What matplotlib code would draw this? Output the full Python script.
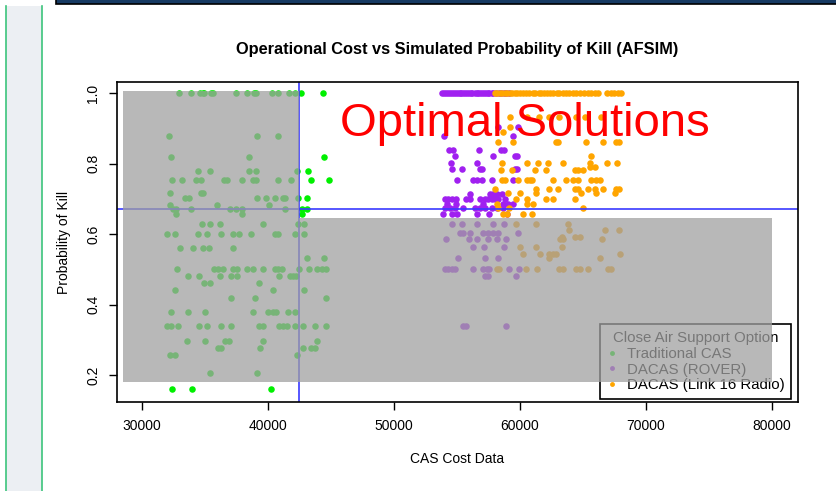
import matplotlib.pyplot as plt
from matplotlib.patches import Rectangle
from matplotlib.lines import Line2D

plt.rcParams['font.family'] = ['Liberation Sans', 'DejaVu Sans']

# Traditional CAS: one list of costs for each probability level
trad_levels = [1.0, 0.878, 0.820, 0.779, 0.754, 0.717, 0.704, 0.684, 0.672, 0.656,
               0.630, 0.601, 0.561, 0.532, 0.502, 0.482, 0.461, 0.440, 0.420, 0.380,
               0.338, 0.296, 0.277, 0.256, 0.206, 0.161]
trad_costs = [
    [32960, 33865, 34603, 34817, 34944, 35452, 35659, 37460, 38357, 38889, 39048, 40317, 40794, 41690, 42167, 42595, 44341],
    [32143, 39127, 40794],
    [32278, 38468, 44444],
    [34444, 35373, 38468, 39048, 42278, 43198],
    [32357, 33175, 34310, 34659, 36508, 36722, 37913, 38786, 39048, 40770, 41802, 43437, 44841],
    [32246, 34659, 34865],
    [33389, 33730, 39151, 39841, 40556, 41214, 41373, 42357, 43071],
    [32246, 35929, 40079],
    [32484, 32698, 33865, 36984, 37460, 37913, 41349, 42675, 43071],
    [32722, 37913, 42675],
    [34786, 35373, 36167, 39627, 42405, 42857],
    [32008, 32595, 34444, 35135, 36270, 37198, 37675, 38675, 40579, 40794, 42119, 42857],
    [33016, 34071, 34865, 35341, 37198],
    [43071, 44444],
    [32754, 35714, 36056, 36452, 37246, 37563, 38357, 38786, 39627, 40556, 40817, 41087, 42437, 43230, 43865, 44262, 44579],
    [33651, 34548, 36190, 37063, 37563, 40897, 41746, 42008, 42222],
    [34921, 35397, 39262],
    [32595, 40421, 42857],
    [37087, 38944, 44579],
    [32278, 33651, 35024, 38833, 39976, 40421, 40635, 41587, 42167],
    [32008, 32278, 32857, 34548, 35135, 36270, 37087, 39262, 39627, 40849, 41167, 41484, 42167, 42754, 43706, 44579],
    [33548, 35024, 36563, 36929, 39627, 43865],
    [36056, 36246, 39365, 42754, 43437, 43754],
    [32222, 32595, 42278],
    [35397, 39151],
    [32357, 33992, 40214],
]

# DACAS (ROVER)
rover_levels = [1.0, 0.904, 0.879, 0.838, 0.822, 0.803, 0.784, 0.753, 0.715, 0.701,
                0.687, 0.673, 0.656, 0.630, 0.602, 0.585, 0.564, 0.532, 0.502, 0.482, 0.338]
rover_costs = [
    [53800, 53950, 54120, 54280, 54430, 54610, 54740, 54900, 55060, 55210, 55330, 55490, 55660,
     55790, 55960, 56110, 56240, 56420, 56560, 56690, 56860, 57010, 57140, 57310, 57460, 57590,
     57760, 57900, 58090, 58310, 58480, 58720, 58890, 59180],
    [58254, 59841],
    [53968, 59468],
    [54365, 54706, 56770, 58492, 58730],
    [54841, 57881, 59603, 59786],
    [54500, 56563],
    [54579, 55373, 56825, 56960, 59603, 59786],
    [55024, 56294, 56563, 56960, 57754, 59468],
    [56032, 57619, 57881, 58151, 58548],
    [54048, 54310, 54579, 54921, 55714, 56032, 56825, 57222, 57484, 57754, 58016, 58300, 58810],
    [54180, 54921, 57087, 58675, 59071, 59468],
    [54048, 54450, 54841, 55500, 56430, 56825, 57222, 57754, 58151, 58675],
    [53913, 54579, 54976, 56563, 57563, 58944],
    [54579, 55373, 56563, 57881, 58730],
    [55238, 55500, 56032, 57087, 57484, 57881, 58278, 59865],
    [54127, 55976, 56563, 57484, 58151, 58889],
    [56294, 57143, 58730],
    [55079, 57246, 58278],
    [54048, 54309, 54579, 54841, 56294, 57087, 57357, 57563, 59103, 59897],
    [57222, 57484, 59683],
    [55500, 55714, 58889],
]

# DACAS (Link 16 Radio)
link_levels = [1.0, 0.933, 0.904, 0.890, 0.862, 0.822, 0.803, 0.791, 0.782, 0.753,
               0.729, 0.716, 0.701, 0.687, 0.673, 0.656, 0.630, 0.613, 0.593, 0.585,
               0.564, 0.543, 0.532, 0.502]
link_costs = [
    [58010, 58190, 58420, 58600, 58790, 59010, 59220, 59380, 59610, 59790, 60020, 60240, 60510,
     60730, 61020, 61240, 61490, 61710, 61920, 62140, 62410, 62630, 62920, 63140, 63410, 63660,
     63880, 64210, 64490, 64820, 65090, 65420, 65690, 65980, 66190, 66900, 67210, 67480, 67790, 68060],
    [59206, 60532, 61500, 62300, 63100, 64500, 65159, 66484],
    [59206],
    [58627],
    [58254, 59444, 62913, 63016, 65294, 66611, 67675, 67881],
    [65690],
    [58548, 60532, 61452, 62246, 63436, 65611, 66929, 67722],
    [65556, 65952],
    [58468, 59341, 61190, 62119, 64365, 64627, 65024],
    [58548, 58810, 59865, 60532, 60794, 61008, 62643, 63706, 64231, 64627, 65690, 66087, 66349],
    [58016, 61325, 62325, 63040, 64365, 64627, 65421, 65952, 66611, 67675, 67881],
    [59071, 60000, 61325, 64897, 66087, 67540],
    [59683, 60532, 62119, 62643, 64365],
    [58151, 60532, 61056],
    [58278, 59151, 65024],
    [58675, 58944, 60262, 60929],
    [59683, 61270, 63833],
    [63913, 66802, 67857],
    [63389, 64365, 64762],
    [63175, 63436, 66563],
    [60000, 61270, 63389],
    [60262, 61643, 62325, 62643, 62913, 67937],
    [62325, 66349],
    [58198, 58357, 60476, 61373, 63119, 63436, 64500, 64762, 65452, 67008, 67278],
]

series_names = ['Traditional CAS', 'DACAS (ROVER)', 'DACAS (Link 16 Radio)']
series_colors = ['#00f000', '#a020f0', '#ffa500']

cost_cut = 42460
pk_cut = 0.670

fig = plt.figure(figsize=(8.36, 4.91), dpi=100)

# slide decorations around the chart
fig.patches.append(Rectangle((6 / 836, 0), 36 / 836, 1 - 6 / 491, transform=fig.transFigure,
                             facecolor='#eceff3', edgecolor='none', zorder=0))
for xp in (6, 42):
    fig.lines.append(Line2D([xp / 836, xp / 836], [0, 1 - 6 / 491], transform=fig.transFigure,
                            color='#3cc47c', lw=1.2))
fig.patches.append(Rectangle((56 / 836, 1 - 4 / 491), 1, 6 / 491, transform=fig.transFigure,
                             facecolor='#173a63', edgecolor='black', lw=1.2))

ax = fig.add_axes([117 / 836, 1 - 402 / 491, 681 / 836, 320 / 491])

groups = [(trad_levels, trad_costs), (rover_levels, rover_costs), (link_levels, link_costs)]
for (levels, costs), name, col in zip(groups, series_names, series_colors):
    xs, ys = [], []
    for lv, row in zip(levels, costs):
        xs += row
        ys += [lv] * len(row)
    ax.plot(xs, ys, 'o', color=col, ms=4.7, mew=0, zorder=2)

ax.axvline(cost_cut, color='#3a3aff', lw=1.2, zorder=2.2)
ax.axhline(pk_cut, color='#3a3aff', lw=1.2, zorder=2.2)

handles = [Line2D([], [], ls='none', marker='o', ms=3.5, mew=0, color=c) for c in series_colors]
leg = ax.legend(handles, series_names, title='Close Air Support Option', loc='lower right',
                bbox_to_anchor=(0.990, 0.009), borderaxespad=0, fontsize=10.8, title_fontsize=10.8,
                fancybox=False, edgecolor='black', framealpha=1, handlelength=0.6,
                handletextpad=0.7, labelspacing=0.12, borderpad=0.45)
leg.get_frame().set_linewidth(1.2)
leg.set_zorder(2.5)

# shaded regions (drawn over the points and legend)
ax.add_patch(Rectangle((28470, 0.179), cost_cut - 28470, 1.0065 - 0.179,
                       facecolor='#a0a0a0', alpha=0.75, edgecolor='none', zorder=3))
ax.add_patch(Rectangle((cost_cut, 0.179), 80050 - cost_cut, 0.647 - 0.179,
                       facecolor='#a0a0a0', alpha=0.75, edgecolor='none', zorder=3))

ax.text(60400, 0.912, 'Optimal Solutions', color='red', fontsize=34,
        ha='center', va='center', zorder=5)

ax.set_xlim(28000, 82100)
ax.set_ylim(0.1234, 1.032)
ax.set_xticks([30000, 40000, 50000, 60000, 70000, 80000])
ax.set_yticks([0.2, 0.4, 0.6, 0.8, 1.0])
ax.set_yticklabels(['0.2', '0.4', '0.6', '0.8', '1.0'], rotation=90, va='center')
ax.tick_params(direction='out', length=6, width=1, labelsize=10, pad=6)
for sp in ax.spines.values():
    sp.set_linewidth(1.2)

ax.set_xlabel('CAS Cost Data', fontsize=10, labelpad=14)
ax.set_ylabel('Probability of Kill', fontsize=10, labelpad=11)
ax.set_title('Operational Cost vs Simulated Probability of Kill (AFSIM)', fontsize=11.8,
             fontweight='bold', pad=20)

fig.savefig('out.png', dpi=100)
